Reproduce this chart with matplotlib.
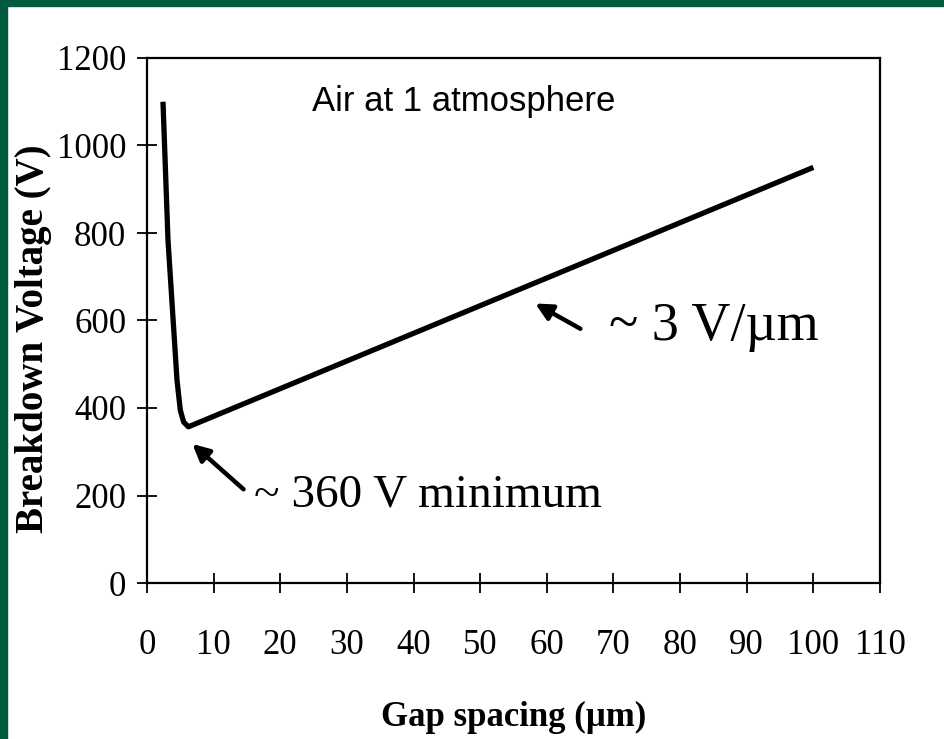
import matplotlib
matplotlib.use("Agg")
import matplotlib.pyplot as plt
from matplotlib.patches import Rectangle

# Data
gap_um = [2.4, 3.15, 4.5, 5.0, 5.5, 6.2, 100]
breakdown_v = [1100, 784, 464, 395, 368, 357, 950]
x_ticks = [0, 10, 20, 30, 40, 50, 60, 70, 80, 90, 100, 110]
y_ticks = [0, 200, 400, 600, 800, 1000, 1200]

W, H = 945, 739
fig = plt.figure(figsize=(W / 100, H / 100), dpi=100)
fig.patch.set_facecolor("white")

# green frame (top and left)
green = "#005a40"
fig.patches.append(Rectangle((0, 1 - 6 / H), 1, 6 / H, transform=fig.transFigure,
                             color=green, zorder=0))
fig.patches.append(Rectangle((0, 0), 7 / W, 1, transform=fig.transFigure,
                             color=green, zorder=0))

ax = fig.add_axes([147 / W, 1 - 583 / H, (880 - 147) / W, (583 - 58) / H])
serif = "Liberation Serif"

ax.plot(gap_um, breakdown_v, color="black", lw=3.8, solid_joinstyle="round",
        solid_capstyle="butt")

ax.set_xlim(0, 110)
ax.set_ylim(0, 1200)
ax.set_xticks(x_ticks)
ax.set_yticks(y_ticks)
ax.set_xticklabels([str(v) for v in x_ticks], fontfamily=serif, fontsize=25)
ax.set_yticklabels([str(v) for v in y_ticks], fontfamily=serif, fontsize=25)
ax.tick_params(axis="x", direction="inout", length=14, width=1.3, pad=26)
ax.tick_params(axis="y", direction="inout", length=14, width=1.3, pad=8)
for s in ax.spines.values():
    s.set_linewidth(1.6)

ax.set_xlabel("Gap spacing (µm)", fontfamily=serif, fontweight="bold", fontsize=25)
ax.xaxis.set_label_coords(0.5, -0.225)
ax.set_ylabel("Breakdown Voltage (V)", fontfamily=serif, fontweight="bold", fontsize=28)
ax.yaxis.set_label_coords(-0.13, 0.465)

ax.text(24.8, 1100, "Air at 1 atmosphere", fontfamily="Liberation Sans",
        fontsize=25, va="center", ha="left")

ax.annotate("", xy=(6.5, 322), xytext=(14.8, 210),
            arrowprops=dict(arrowstyle="-|>,head_length=1.0,head_width=0.5",
                            color="black", lw=3.2))
ax.text(16.0, 200, "~ 360 V minimum", fontfamily=serif, fontsize=34,
        va="center", ha="left")

ax.annotate("", xy=(57.9, 642), xytext=(65.4, 578),
            arrowprops=dict(arrowstyle="-|>,head_length=1.0,head_width=0.5",
                            color="black", lw=3.2))
ax.text(69.3, 585, "~ 3 V/µm", fontfamily=serif, fontsize=39,
        va="center", ha="left")

fig.savefig("out.png", dpi=100, facecolor=fig.get_facecolor())
